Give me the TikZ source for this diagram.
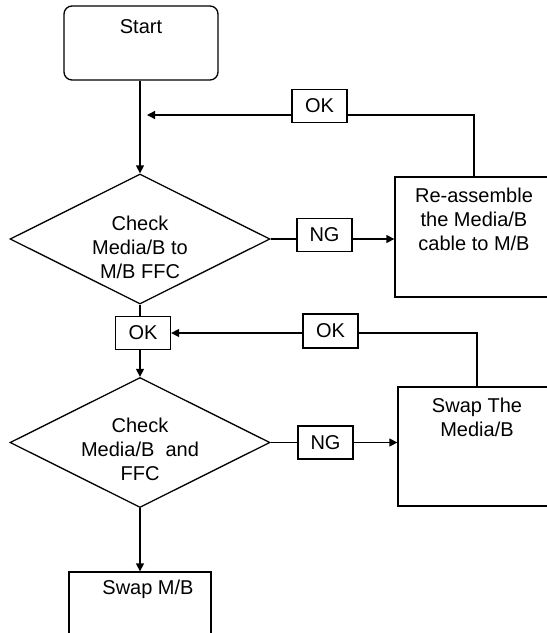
\documentclass[tikz,border=0pt]{standalone}
\usepackage{fontspec}
\setmainfont{Liberation Sans}
\usetikzlibrary{shapes.geometric, arrows.meta}

\begin{document}
\begin{tikzpicture}[x=0.5pt, y=-0.5pt, line width=0.65pt,
  font=\fontsize{10}{12}\selectfont,
  flow/.style={-{Triangle[length=4pt, width=4pt]}},
  stepbox/.style={draw, inner sep=0pt},
  tag/.style={draw, minimum width=27.5pt, minimum height=16.5pt, inner sep=0pt},
  check/.style={draw, diamond, minimum width=130pt, minimum height=65pt, inner sep=0pt},
  words/.style={align=center, inner sep=0pt}]
  \useasboundingbox (0,0) rectangle (547,633);
  \clip (0,0) rectangle (547,633);
  \node[stepbox, rounded corners=4pt, minimum width=77pt, minimum height=37pt] (start) at (141,43) {};
  \node[words] (starttext) at ([yshift=-10.5pt]start.north) {Start};
  \node[check] (chkcable) at (140,239) {};
  \node[words] (chkcabletext) at ([yshift=-4pt]chkcable.center) {Check\\Media/B to\\M/B FFC};
  \node[tag] (okone) at (319.5,106) {OK};
  \node[tag] (ngone) at (324.5,235) {NG};
  \node[stepbox, minimum width=79pt, minimum height=60pt] (reseat) at (474,237) {};
  \node[words] (reseattext) at ([yshift=-21.5pt]reseat.north) {Re-assemble\\the Media/B\\cable to M/B};
  \node[tag] (oktwo) at (143,333) {OK};
  \node[check] (chkmedia) at (140,442.5) {};
  \node[words] (chkmediatext) at ([yshift=-3.5pt]chkmedia.center) {Check\\Media/B\ \ and\\FFC};
  \node[tag, minimum height=17pt] (okthree) at (330.5,331) {OK};
  \node[tag] (ngtwo) at (325.5,442.5) {NG};
  \node[stepbox, minimum width=79pt, minimum height=59.5pt] (swapmedia) at (477,446.5) {};
  \node[words] (swapmediatext) at ([yshift=-15.25pt]swapmedia.north) {Swap The\\Media/B};
  \node[stepbox, minimum width=71pt, minimum height=60pt] (swapmb) at (140,632) {};
  \node[words] (swapmbtext) at ([xshift=4pt, yshift=-9pt]swapmb.north) {Swap M/B};
  \coordinate (backin) at (147,115);
  \draw[flow] (start.south -| chkcable) -- (chkcable.north);
  \draw (reseat.north) |- (okone.east |- backin);
  \draw[flow] (okone.west |- backin) -- (backin);
  \draw (chkcable.east) -- (ngone.west |- chkcable.east);
  \draw[flow] (ngone.east |- chkcable.east) -- (reseat.west |- chkcable.east);
  \draw (chkcable.south) -- (chkcable.south |- oktwo.north);
  \draw[flow] (chkcable.south |- oktwo.south) -- (chkmedia.north);
  \draw (swapmedia.north) |- (okthree.east |- oktwo);
  \draw[flow] (okthree.west |- oktwo) -- (oktwo.east);
  \draw (chkmedia.east) -- (ngtwo.west |- chkmedia.east);
  \draw[flow] (ngtwo.east |- chkmedia.east) -- (swapmedia.west |- chkmedia.east);
  \draw[flow] (chkmedia.south) -- (swapmb.north);
\end{tikzpicture}
\end{document}
